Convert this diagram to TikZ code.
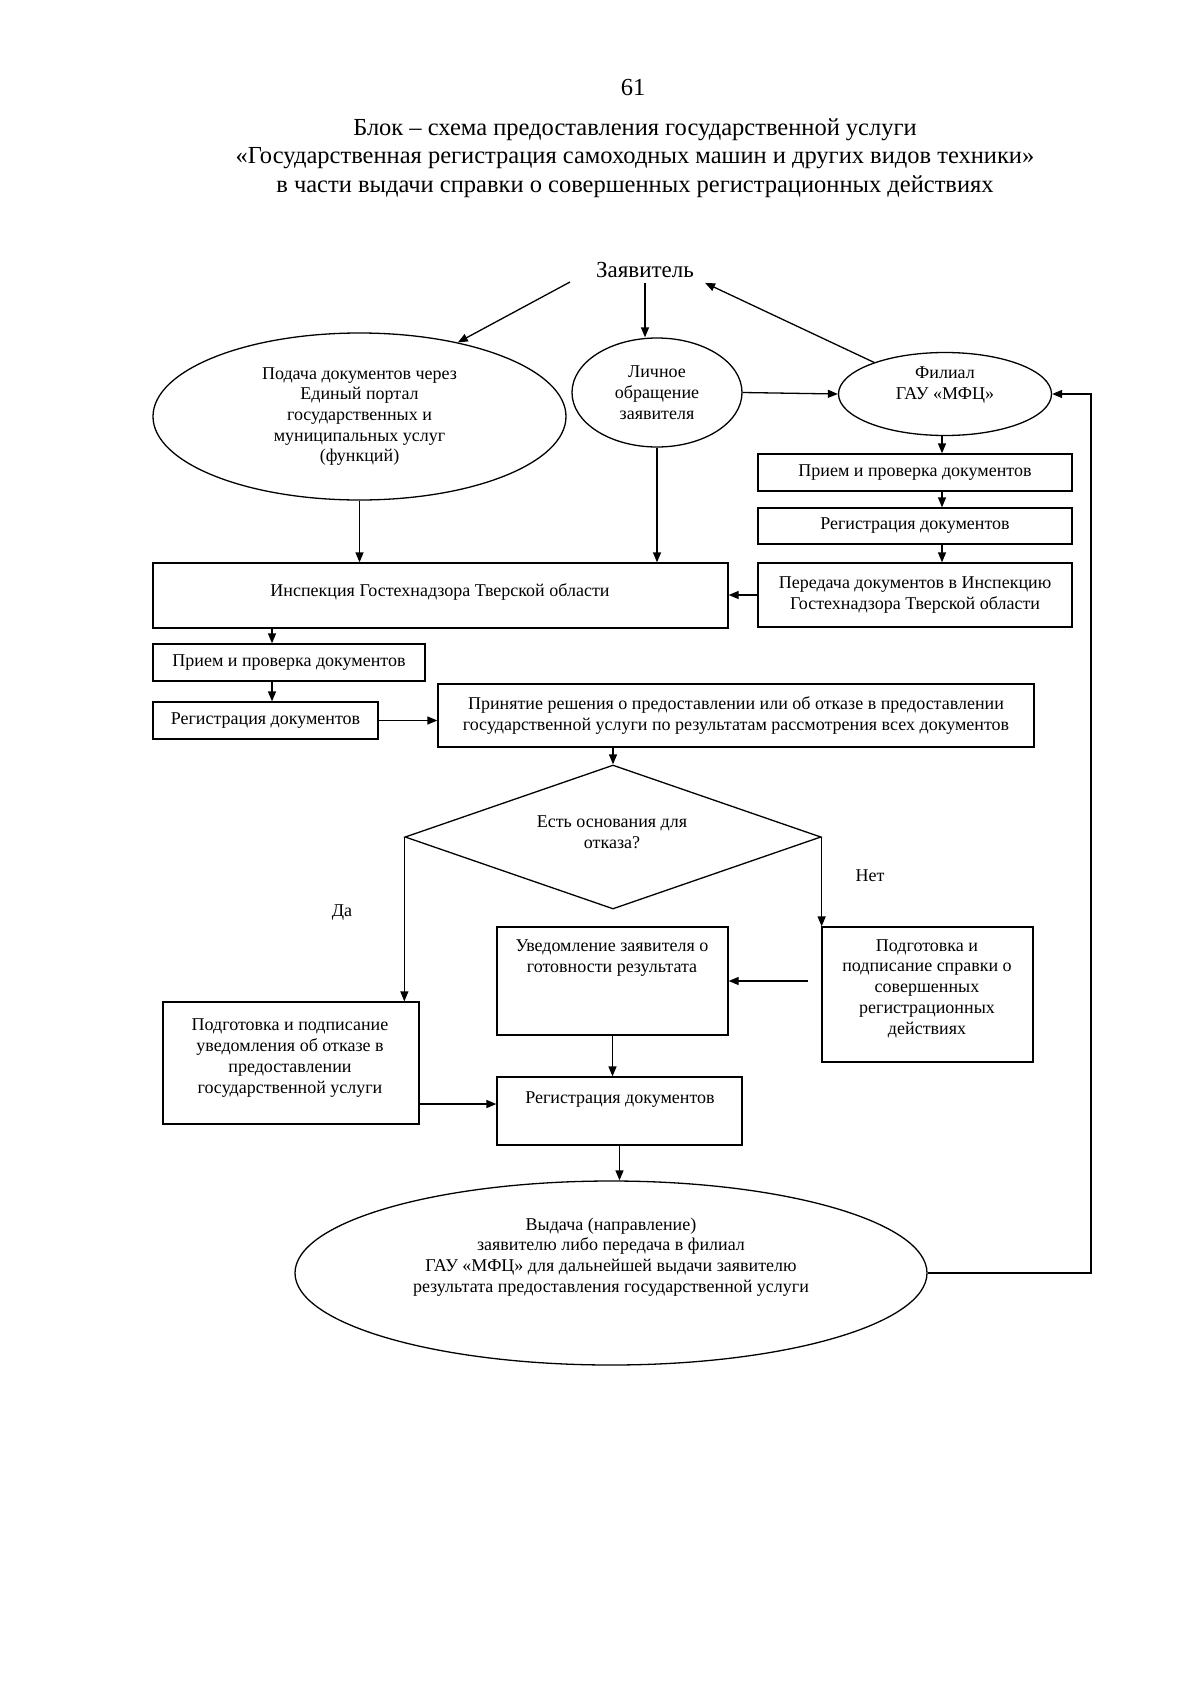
\documentclass[tikz,border=0pt]{standalone}
\usepackage{fontspec}
\setmainfont{Liberation Serif}
\usetikzlibrary{shapes.geometric,arrows.meta,calc}
\begin{document}
\begin{tikzpicture}[x=1pt,y=-1pt,
  every node/.style={font=\fontsize{18}{20.7}\selectfont},
  box/.style={draw,rectangle,inner sep=0pt,align=center,line width=1.3pt},
  oval/.style={draw,ellipse,inner sep=0pt,align=center,line width=1.3pt},
  txt/.style={inner sep=0pt,align=center},
  arr/.style={line width=1.3pt,-{Triangle[length=10pt,width=8pt]}},
  ln/.style={line width=1.3pt}]
\useasboundingbox[fill=white] (0,0) rectangle (1200,1691);

% title
\node[txt,font=\fontsize{24.5}{28}\selectfont] (pg) at (633,88) {61};
\node[txt,font=\fontsize{24.5}{28.5}\selectfont] (title) at (635,158)
  {Блок – схема предоставления государственной услуги\\
   «Государственная регистрация самоходных машин и других видов техники»\\
   в части выдачи справки о совершенных регистрационных действиях};

\node[txt,font=\fontsize{23}{26}\selectfont,inner sep=5pt] (z) at (645,270) {Заявитель};

% ellipses
\node[oval,minimum width=413pt,minimum height=167pt] (portal) at (359.5,416.5)
  {Подача документов через\\Единый портал\\государственных и\\муниципальных услуг\\(функций)};
\node[oval,minimum width=170pt,minimum height=109pt] (personal) at (657,392.5)
  {Личное\\обращение\\заявителя};
\node[oval,minimum width=213pt,minimum height=83pt] (mfc) at (945,394) {};
\node[txt] (mfct) at (945,385) {Филиал\\ГАУ «МФЦ»};

% right column
\node[box,minimum width=314pt,minimum height=37pt] (priem2) at (915,472.5) {Прием и проверка документов};
\node[box,minimum width=314pt,minimum height=36pt] (reg2) at (915,526) {Регистрация документов};
\node[box,minimum width=314pt,minimum height=64pt] (per2) at (915,595)
  {Передача документов в Инспекцию\\Гостехнадзора Тверской области};

% inspection
\node[box,minimum width=575pt,minimum height=65pt] (insp) at (440.5,595.5) {};
\node[txt] (inspt) at (440,592) {Инспекция Гостехнадзора Тверской области};
\node[box,minimum width=272pt,minimum height=37pt] (priem1) at (289,662.5) {Прием и проверка документов};
\node[box,minimum width=225pt,minimum height=37pt] (reg1) at (265.5,720.5) {Регистрация документов};
\node[box,minimum width=596pt,minimum height=63pt] (prin) at (736,715.5)
  {Принятие решения о предоставлении или об отказе в предоставлении\\государственной услуги по результатам рассмотрения всех документов};

% decision
\node[draw,diamond,inner sep=0pt,minimum width=416pt,minimum height=144pt,line width=1.3pt] (dia) at (613,837) {};
\node[txt] (diat) at (612,832) {Есть основания для\\отказа?};
\node[txt] (yes) at (342,913) {Да};
\node[txt] (no) at (870,876) {Нет};

% lower boxes
\node[box,minimum width=256pt,minimum height=122pt] (otk) at (291,1063) {};
\node[txt] (otkt) at (290,1058) {Подготовка и подписание\\уведомления об отказе в\\предоставлении\\государственной услуги};
\node[box,minimum width=231pt,minimum height=108pt] (uved) at (612.5,981) {};
\node[txt] (uvedt) at (612,958) {Уведомление заявителя о\\готовности результата};
\node[box,minimum width=211pt,minimum height=135pt] (sprav) at (927.5,994.5) {};
\node[txt] (spravt) at (927,988.5) {Подготовка и\\подписание справки о\\совершенных\\регистрационных\\действиях};
\node[box,minimum width=245pt,minimum height=68pt] (reg3) at (619.5,1111) {};
\node[txt] (reg3t) at (620,1100) {Регистрация документов};
\node[oval,minimum width=632pt,minimum height=184pt] (out) at (611,1273) {};
\node[txt] (outt) at (611,1257) {Выдача (направление)\\заявителю либо передача в филиал\\ГАУ «МФЦ» для дальнейшей выдачи заявителю\\результата предоставления государственной услуги};

% helper coordinates
\coordinate (zl) at (570,282);
\coordinate (cx1) at (272,0);
\coordinate (cy1) at (0,1104);
\coordinate (rl) at (1091,800);

% connectors
\draw[arr] (zl) -- (portal.37);
\draw[arr] (z.south) -- (z.south |- personal.north);
\draw[arr] (mfc.156) -- ([xshift=6pt]z.south east);
\draw[arr] (personal.east) -- (mfc.west);
\draw[arr] (portal.south) -- (portal.south |- insp.north);
\draw[arr] (personal.south) -- (personal.south |- insp.north);
\draw[arr] ([xshift=-3pt]mfc.south) -- ([xshift=-3pt]mfc.south |- priem2.north);
\draw[arr] ([xshift=-3pt]mfc.south |- priem2.south) -- ([xshift=-3pt]mfc.south |- reg2.north);
\draw[arr] ([xshift=-3pt]mfc.south |- reg2.south) -- ([xshift=-3pt]mfc.south |- per2.north);
\draw[arr] (per2.west) -- (insp.east |- per2.west);
\draw[arr] (insp.south -| cx1) -- (priem1.north -| cx1);
\draw[arr] (priem1.south -| cx1) -- (reg1.north -| cx1);
\draw[arr] (reg1.east) -- (reg1.east -| prin.west);
\draw[arr] (dia.north |- prin.south) -- (dia.north);
\draw[arr] (dia.west) -- (dia.west |- otk.north);
\draw[arr] (dia.east) -- (dia.east |- sprav.north);
\draw[arr,shorten <=13pt] (sprav.west |- uved.east) -- (uved.east);
\draw[arr] (uved.south) -- (uved.south |- reg3.north);
\draw[arr] (otk.east |- cy1) -- (reg3.west |- cy1);
\draw[arr] (reg3.south) -- (reg3.south |- out.north);
\draw[arr] (out.east) -| (rl) |- (mfc.east);
\end{tikzpicture}
\end{document}
